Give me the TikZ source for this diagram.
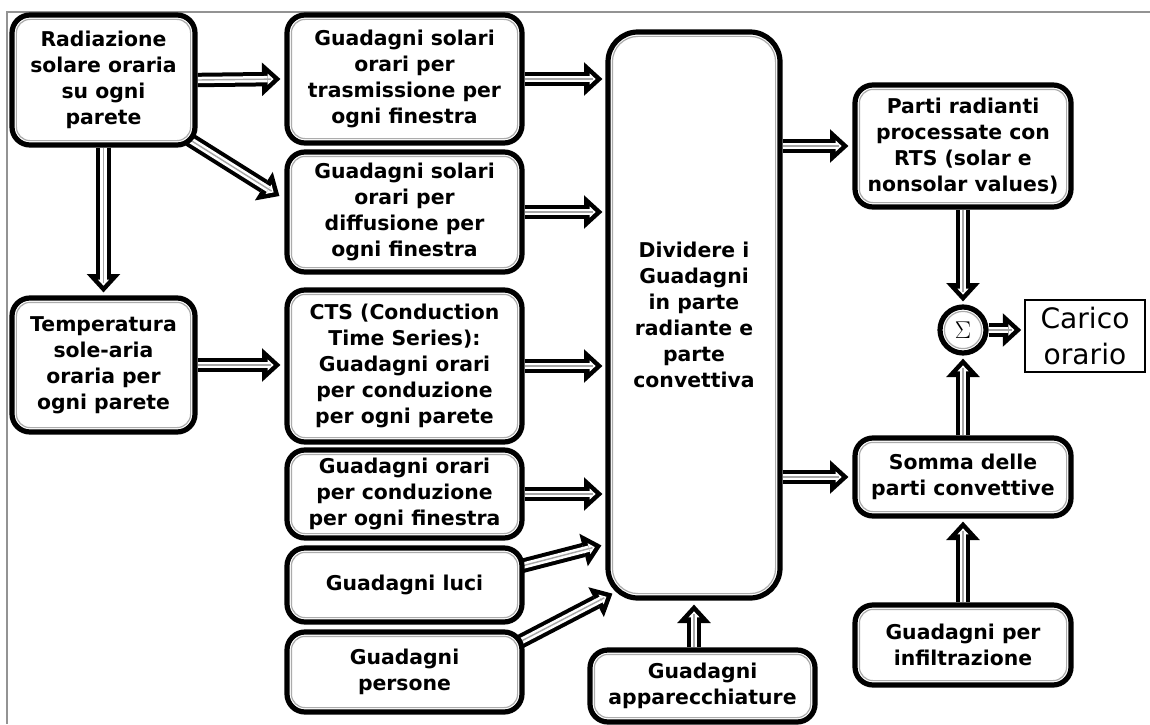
\documentclass[tikz,border=0pt]{standalone}
\usepackage{fontspec}
\setmainfont{DejaVu Sans}
\usetikzlibrary{arrows.meta,calc,backgrounds}
\tikzset{
  box/.style={draw=black, line width=1.3mm, fill=white, rounded corners=4.5mm,
    align=center, inner sep=0pt,
    font=\fontsize{14.5}{18.4}\selectfont\bfseries,
    path picture={\draw[gray!65, line width=0.3mm, rounded corners=3.4mm]
      ([shift={(1.1mm,1.1mm)}]path picture bounding box.south west) rectangle
      ([shift={(-1.1mm,-1.1mm)}]path picture bounding box.north east);}},
  bigbox/.style={box, rounded corners=7.5mm,
    path picture={\draw[gray!65, line width=0.3mm, rounded corners=6.4mm]
      ([shift={(1.1mm,1.1mm)}]path picture bounding box.south west) rectangle
      ([shift={(-1.1mm,-1.1mm)}]path picture bounding box.north east);}},
  sumnode/.style={circle, draw=black, line width=1.3mm, fill=white, inner sep=0pt,
    minimum size=11.5mm, font=\fontsize{16}{16}\selectfont,
    path picture={\draw[gray!65, line width=0.3mm]
      (path picture bounding box.center) circle (4.65mm);}},
  resultbox/.style={draw=black, line width=0.4mm, fill=white, align=center,
    inner sep=0pt, font=\fontsize{20}{25}\selectfont},
  fat/.style={
    preaction={draw=black, line width=3.6mm, shorten >=0pt,
      -{Triangle[length=4.6mm,width=8.4mm,line width=0pt]}},
    draw=white, line width=1.6mm, shorten >=1.7mm,
    -{Triangle[length=1.5mm,width=2.8mm,line width=0pt]},
    postaction={draw=gray!70, line width=0.35mm, shorten >=2.3mm, -}},
  frame/.style={draw=gray!85, line width=0.5mm}
}
\begin{document}
\begin{tikzpicture}[x=0.25mm,y=-0.25mm]
\useasboundingbox (0,0) rectangle (1150,724);
\draw[frame] (1150,12) -- (7,12) -- (7,724);

\node[box, minimum width=45.75mm, minimum height=32.5mm] (A) at (103.5,80)
  {Radiazione\\solare oraria\\su ogni\\parete};
\node[box, minimum width=58.75mm, minimum height=32mm] (B) at (404.5,79)
  {Guadagni solari\\orari per\\trasmissione per\\ogni finestra};
\node[box, minimum width=58.75mm, minimum height=30mm] (C) at (404.5,212)
  {Guadagni solari\\orari per\\diffusione per\\ogni finestra};
\node[box, minimum width=45.75mm, minimum height=33.5mm] (D) at (103.5,365)
  {Temperatura\\sole-aria\\oraria per\\ogni parete};
\node[box, minimum width=58.75mm, minimum height=38mm] (E) at (404.5,366)
  {CTS (Conduction\\Time Series):\\Guadagni orari\\per conduzione\\per ogni parete};
\node[box, minimum width=58.75mm, minimum height=22mm] (F) at (404.5,494)
  {Guadagni orari\\per conduzione\\per ogni finestra};
\node[box, minimum width=58.75mm, minimum height=18.5mm] (G) at (404.5,585)
  {Guadagni luci};
\node[box, minimum width=58.75mm, minimum height=20mm] (H) at (404.5,672)
  {Guadagni\\persone};
\node[box, minimum width=56.25mm, minimum height=18mm] (App) at (702.5,686)
  {Guadagni\\apparecchiature};
\node[bigbox, minimum width=43mm, minimum height=141.5mm] (M) at (694,315)
  {Dividere i\\Guadagni\\in parte\\radiante e\\parte\\convettiva};
\node[box, minimum width=54mm, minimum height=30.5mm] (P) at (963,146)
  {Parti radianti\\processate con\\RTS (solar e\\nonsolar values)};
\node[box, minimum width=54mm, minimum height=19.5mm] (S) at (963,477)
  {Somma delle\\parti convettive};
\node[box, minimum width=54mm, minimum height=20mm] (I) at (963,645)
  {Guadagni per\\infiltrazione};
\node[sumnode] (sig) at (963,330) {$\Sigma$};
\node[resultbox, minimum width=30mm, minimum height=18mm] (car) at (1085,336)
  {Carico\\orario};

\begin{pgfonlayer}{background}
\draw[fat] (A.east) -- ($(B.west)+(-4,0)$);
\draw[fat] ($(A.south east)+(-8,-8)$) -- ($(C.west)+(-5,-16)$);
\draw[fat] (A.south) -- ($(D.north)+(0,-3)$);
\draw[fat] (D.east) -- ($(D.east -| E.west)+(-4,0)$);
\draw[fat] (B.east) -- ($(B.east -| M.west)+(-3,0)$);
\draw[fat] (C.east) -- ($(C.east -| M.west)+(-3,0)$);
\draw[fat] (E.east) -- ($(E.east -| M.west)+(-3,0)$);
\draw[fat] (F.east) -- ($(F.east -| M.west)+(-3,0)$);
\draw[fat] ($(G.east)+(-3,-19)$) -- ($(M.west |- G.north)+(-4,0)$);
\draw[fat] ($(H.north east)+(-4,12)$) -- ($(M.south west)+(7,-7)$);
\draw[fat] (M.south |- App.north) -- ($(M.south)+(0,4)$);
\draw[fat] (M.east |- P.west) -- ($(P.west)+(-4,0)$);
\draw[fat] (M.east |- S.west) -- ($(S.west)+(-4,0)$);
\draw[fat] (P.south) -- ($(sig.north)+(0,-3)$);
\draw[fat] (S.north) -- ($(sig.south)+(0,3)$);
\draw[fat] (I.north) -- ($(S.south)+(0,3)$);
\draw[fat] (sig.east) -- ($(sig.east -| car.west)+(-3,0)$);
\end{pgfonlayer}
\end{tikzpicture}
\end{document}
